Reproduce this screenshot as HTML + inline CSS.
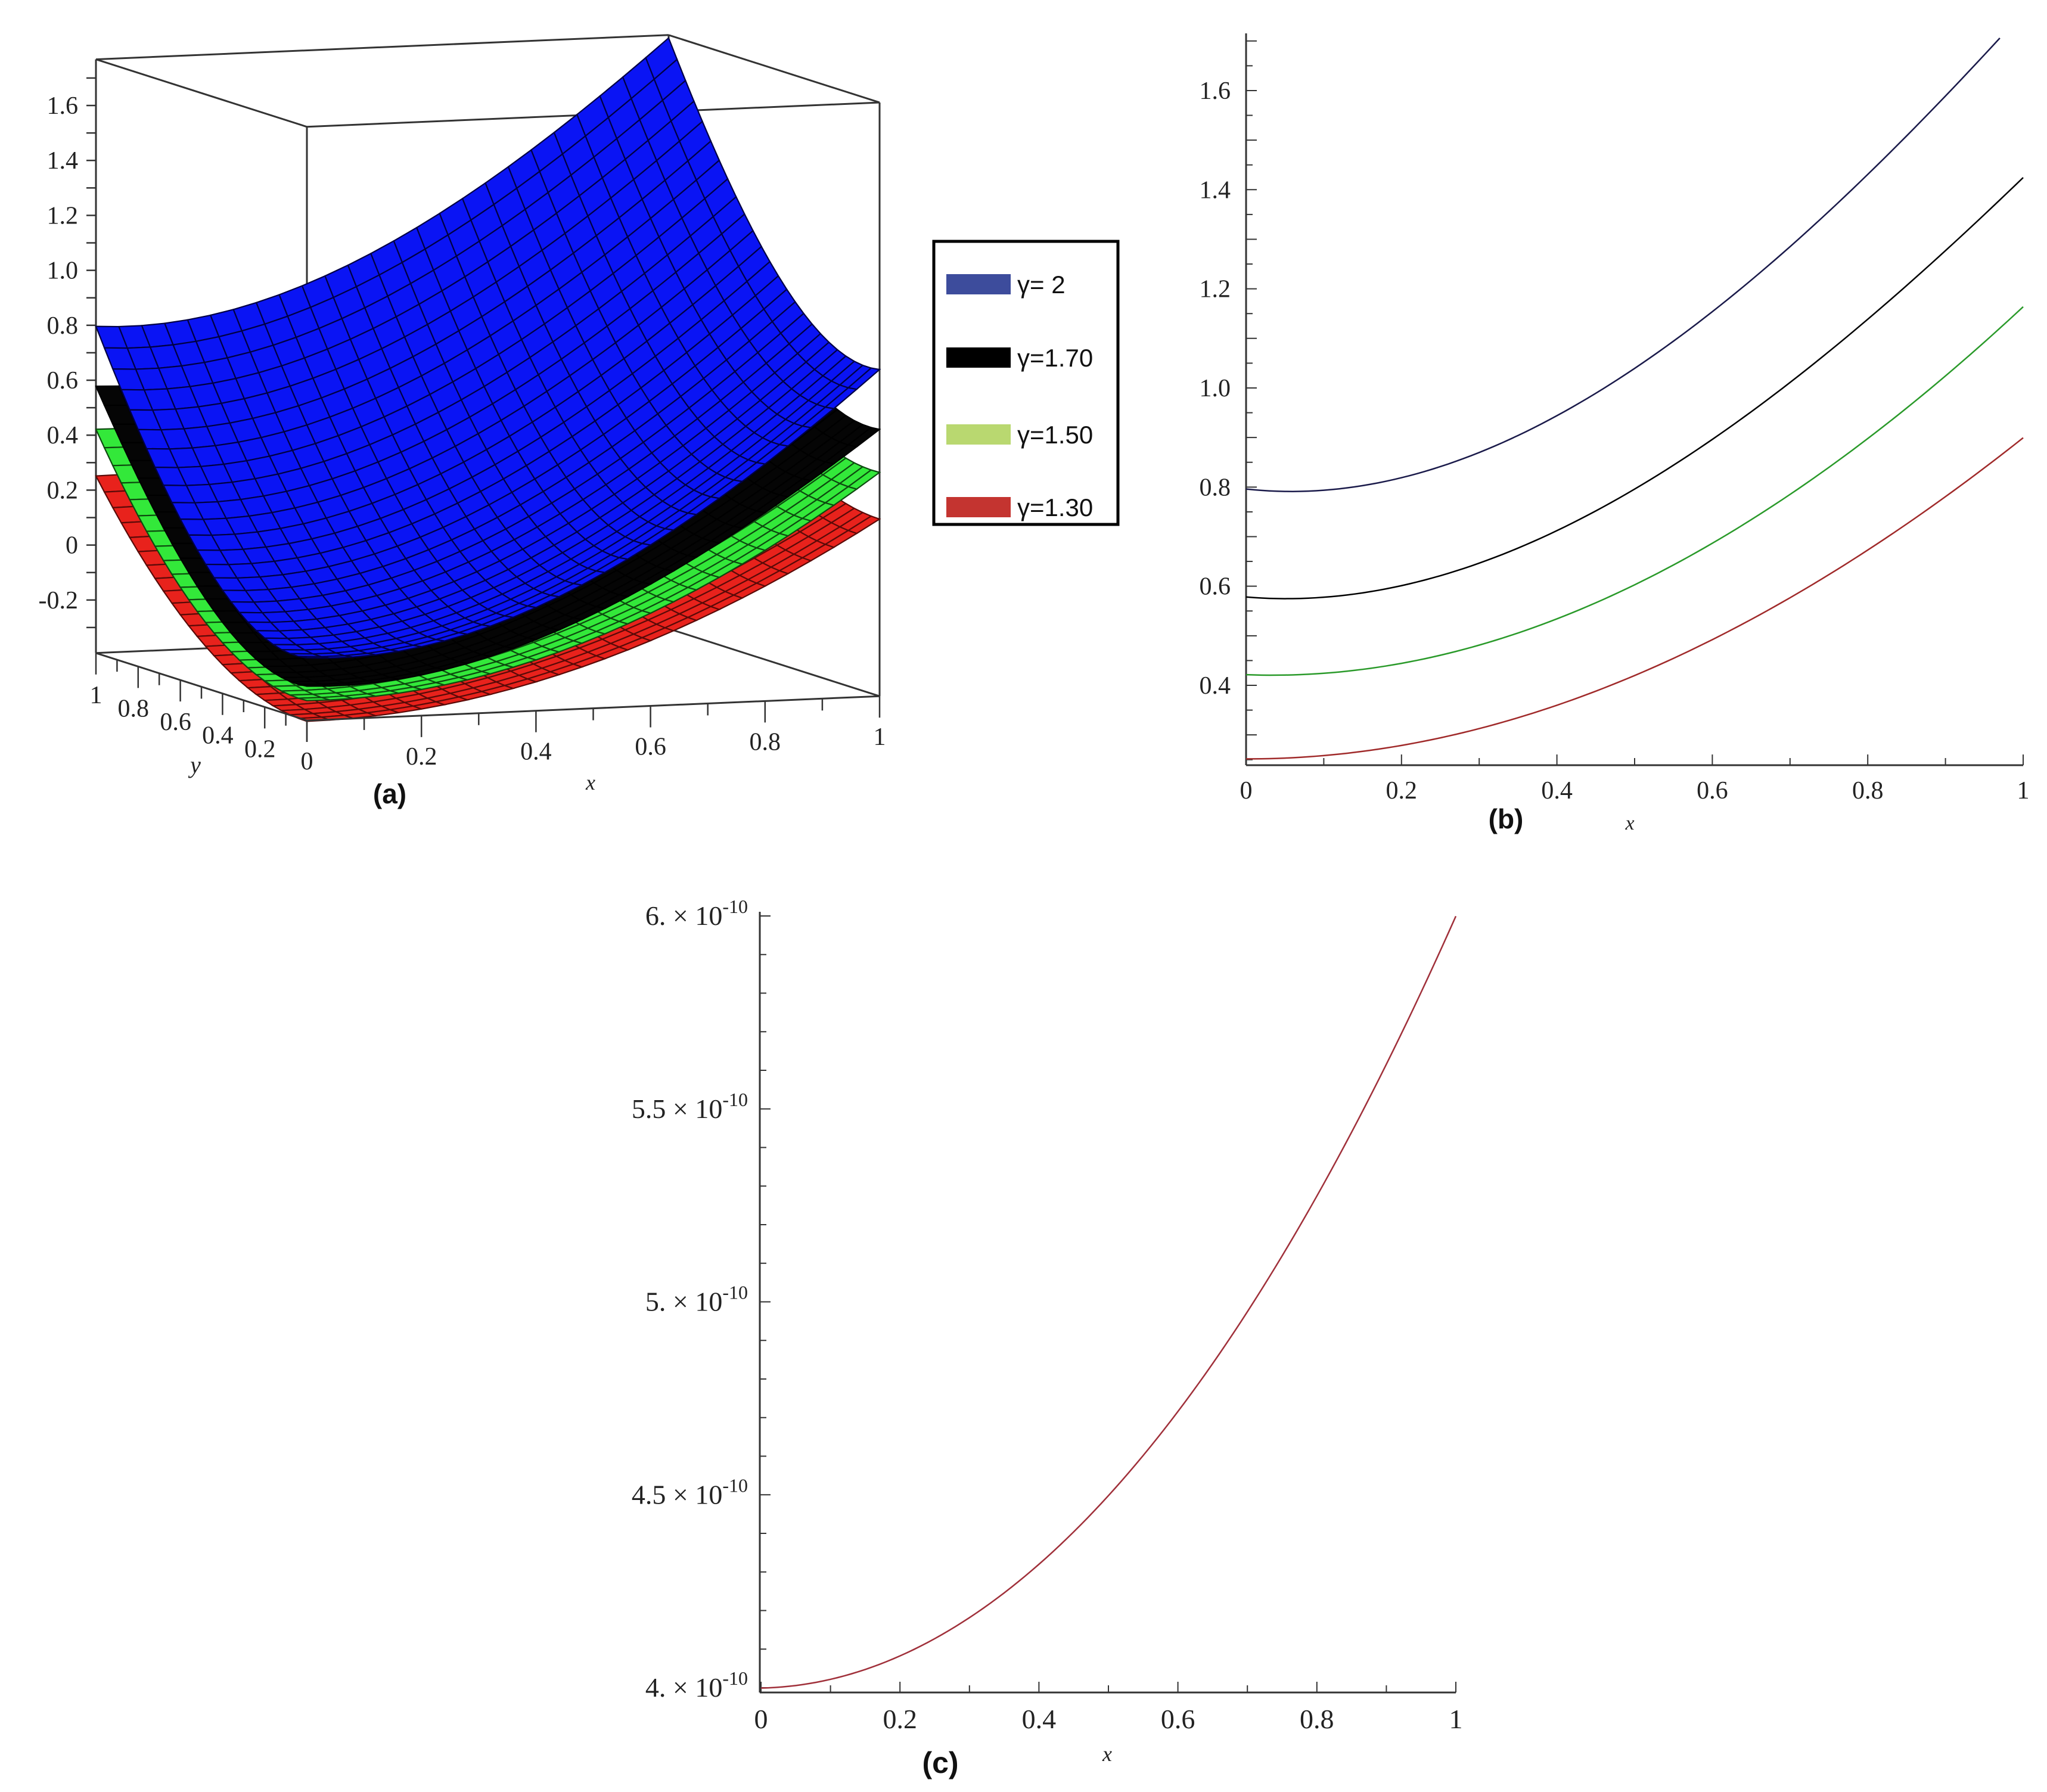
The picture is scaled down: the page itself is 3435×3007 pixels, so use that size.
<!DOCTYPE html>
<html><head><meta charset="utf-8"><style>
html,body{margin:0;padding:0;background:#fff}
svg{display:block}
.tk{font-family:"Liberation Serif",serif;fill:#222}
.lab{font-family:"Liberation Sans",sans-serif;font-weight:bold;fill:#111}
.leg{font-family:"Liberation Sans",sans-serif;font-weight:normal;fill:#111}
</style></head><body>
<svg id="fig" width="3435" height="3007" viewBox="0 0 3435 3007" xmlns="http://www.w3.org/2000/svg">
<g id="pa"></g>
<g id="pb"></g>
<g id="pc"></g>
</svg>
<script>
// ---- data ----
const xs = [0,0.1,0.2,0.3,0.4,0.5,0.6,0.7,0.8,0.9,1.0];
const gammaLabels = ["γ= 2","γ=1.70","γ=1.50","γ=1.30"];
const g20 = [0.79,0.80,0.825,0.868,0.945,1.03,1.15,1.29,1.43,1.60,1.75];
const g17 = [0.572,0.58,0.612,0.65,0.71,0.787,0.885,1.01,1.15,1.29,1.413];
const g15 = [0.42,0.424,0.449,0.482,0.531,0.60,0.69,0.78,0.90,1.03,1.16];
const g13 = [0.253,0.258,0.275,0.313,0.362,0.422,0.493,0.574,0.672,0.781,0.90];
const cVals = [4.0,4.02,4.083,4.18,4.32,4.505,4.714,4.96,5.29,5.61,6.0]; // ×1e-10
const bTicksY = [0.4,0.6,0.8,1.0,1.2,1.4,1.6];
const xTicks = [0,0.2,0.4,0.6,0.8,1];
const aTicksZ = [-0.2,0,0.2,0.4,0.6,0.8,1.0,1.2,1.4,1.6];
const cTicksY = [4,4.5,5,5.5,6];

const NS="http://www.w3.org/2000/svg";
function mk(parent,tag,attrs,name){const e=document.createElementNS(NS,tag);for(const k in attrs)e.setAttribute(k,attrs[k]);


parent.appendChild(e);return e;}
function txt(parent,x,y,s,cls,size,anchor,name,extra){const t=mk(parent,'text',Object.assign({x:x,y:y,class:cls,'font-size':size,'text-anchor':anchor||'middle'},extra||{}),name);t.textContent=s;return t;}
// least-squares cubic fit of sampled values (smooth curve through data)
function fitCubic(arr){
  const M=[[0,0,0,0],[0,0,0,0],[0,0,0,0],[0,0,0,0]],b=[0,0,0,0];
  arr.forEach((v,i)=>{const t=xs[i];const p=[1,t,t*t,t*t*t];for(let r=0;r<4;r++){b[r]+=p[r]*v;for(let c=0;c<4;c++)M[r][c]+=p[r]*p[c];}});
  for(let i=0;i<4;i++){let mx=i;for(let r=i+1;r<4;r++)if(Math.abs(M[r][i])>Math.abs(M[mx][i]))mx=r;
    [M[i],M[mx]]=[M[mx],M[i]];[b[i],b[mx]]=[b[mx],b[i]];
    for(let r=0;r<4;r++){if(r===i)continue;const f=M[r][i]/M[i][i];for(let c=i;c<4;c++)M[r][c]-=f*M[i][c];b[r]-=f*b[i];}}
  const co=b.map((v,i)=>v/M[i][i]);
  return t=>co[0]+co[1]*t+co[2]*t*t+co[3]*t*t*t;
}
function fmt(v){return (Math.abs(v)<1e-9)?"0":v.toFixed(1);}

// ---- panel (a) ----
const pa=document.getElementById('pa');
const zb=-0.393, zt=1.768, zs=461;
function P(x,y,z){return [515+961*x-354*y, 1209-40.8*x-113.2*y-(z-zb)*zs];}
function line(g,a,b,name,w){mk(g,'line',{x1:a[0],y1:a[1],x2:b[0],y2:b[1],stroke:'#333','stroke-width':w||3},name);}
line(pa,P(0,1,zb),P(0,1,zt),'z-axis-line');
line(pa,P(0,1,zt),P(0,0,zt),'box-edge');
line(pa,P(0,0,zt),P(1,0,zt),'box-edge');
line(pa,P(0,1,zt),P(1,1,zt),'box-edge');
line(pa,P(1,1,zt),P(1,0,zt),'box-edge');
line(pa,P(1,0,zt),P(1,0,zb),'box-edge');
line(pa,P(0,0,zt),P(0,0,zb),'box-edge');
line(pa,P(1,1,zt),P(1,1,zb),'box-edge');
line(pa,P(0,1,zb),P(1,1,zb),'box-edge');
line(pa,P(1,1,zb),P(1,0,zb),'box-edge');
for(let v=-0.3;v<=1.75;v+=0.1){const p=P(0,1,v);line(pa,[p[0]-16,p[1]],p,'z-tick',2.5);}
aTicksZ.forEach(v=>{const p=P(0,1,v);txt(pa,p[0]-30,p[1]+14,fmt(v),'tk',42,'end','z-tick-label');});
const series=[{d:g13,fill:'#e8221c',st:'#5a0a08'},{d:g15,fill:'#33e83a',st:'#0d4a0f'},{d:g17,fill:'#050505',st:'#000'},{d:g20,fill:'#0a14f4',st:'#000044'}];
const N=25;
series.forEach((s,si)=>{
  const g=mk(pa,'g',{},'surface-'+gammaLabels[si].replace(/[^0-9]/g,''));
  const h=fitCubic(s.d);
  const g1=h(1);
  const f=(x,y)=>h(x)+h(y)-g1;
  const quads=[];
  for(let i=0;i<N;i++)for(let j=0;j<N;j++)quads.push([i,j]);
  quads.sort((a,b)=>(b[0]+b[1])-(a[0]+a[1]));
  quads.forEach(([i,j])=>{
    const pts=[[i,j],[i+1,j],[i+1,j+1],[i,j+1]].map(([a,b])=>P(a/N,b/N,f(a/N,b/N)));
    mk(g,'polygon',{points:pts.map(p=>p.join(',')).join(' '),fill:s.fill,stroke:s.st,'stroke-width':2.2},'surface-cell');
  });
});
line(pa,P(0,0,zb),P(1,0,zb),'x-axis-line');
line(pa,P(0,1,zb),P(0,0,zb),'y-axis-line');
for(let k=0;k<=10;k++){const p=P(k/10,0,zb);line(pa,p,[p[0],p[1]+(k%2?20:36)],'x-tick',2.5);}
xTicks.forEach(v=>{const p=P(v,0,zb);txt(pa,p[0],p[1]+82,v==1?'1':fmt(v),'tk',42,'middle','x-tick-label');});
for(let k=0;k<=10;k++){const p=P(0,k/10,zb);line(pa,p,[p[0],p[1]+(k%2?20:36)],'y-tick',2.5);}
[0.2,0.4,0.6,0.8,1].forEach(v=>{const p=P(0,v,zb);txt(pa,p[0]+(v==1?0:-8),p[1]+84,v==1?'1':v.toFixed(1),'tk',42,'middle','y-tick-label');});
txt(pa,991,1325,'x','tk',36,'middle','x-axis-title',{'font-style':'italic'});
txt(pa,328,1297,'y','tk',40,'middle','y-axis-title',{'font-style':'italic'});
txt(pa,654,1348,'(a)','lab',46,'middle','panel-a-label');
const lg=mk(pa,'g',{},'legend');
mk(lg,'rect',{x:1567,y:405,width:309,height:475,fill:'#fff',stroke:'#000','stroke-width':5},'legend-box');
const legCol=['#3d4c9c','#000','#b9d870','#c43430'];
const legY=[477,600,729,851];
gammaLabels.forEach((l,i)=>{
  const e=mk(lg,'g',{},'legend-entry');
  mk(e,'rect',{x:1588,y:legY[i]-17,width:108,height:34,fill:legCol[i]},'legend-swatch');
  txt(e,1707,legY[i]+15,l,'leg',42,'start','legend-label');
});

// ---- panel (b) ----
const pb=document.getElementById('pb');
const bx=v=>2091+v*(3395-2091);
const by=v=>1150-(v-0.4)*831.7;
line(pb,[2091,56],[2091,1284],'y-axis-line',3);
line(pb,[2091,1284],[3395,1284],'x-axis-line',3);
for(let v=0.25;v<=1.71;v+=0.05){const y=by(v);line(pb,[2091,y],[2091+(Math.abs(v*10-Math.round(v*10))<0.01?18:11),y],'y-tick',2);}
bTicksY.forEach(v=>txt(pb,2065,by(v)+14,v.toFixed(1),'tk',42,'end','y-tick-label'));
for(let k=0;k<=10;k++){const x=bx(k/10);line(pb,[x,1284],[x,1284-(k%2?12:18)],'x-tick',2);}
xTicks.forEach(v=>txt(pb,bx(v),1340,v==0?'0':v==1?'1':v.toFixed(1),'tk',42,'middle','x-tick-label'));
txt(pb,2527,1390,'(b)','lab',46,'middle','panel-b-label');
txt(pb,2735,1392,'x','tk',34,'middle','x-axis-title',{'font-style':'italic'});
const bCols=['#1a1a4a','#000','#2a9a2a','#a02a2a'];
[g20,g17,g15,g13].forEach((d,i)=>{
  const h=fitCubic(d);
  const pts=[];for(let k=0;k<=100;k++){const t=k/100;const v=h(t);if(v<=1.72)pts.push(bx(t)+','+by(v));}
  mk(pb,'polyline',{points:pts.join(' '),fill:'none',stroke:bCols[i],'stroke-width':2.5},'line-'+gammaLabels[i].replace(/[^0-9]/g,''));
});

// ---- panel (c) ----
const pc=document.getElementById('pc');
const cx=v=>1277+v*(2443-1277);
const cy=v=>2832-(v-4)*(2832-1537)/2;
line(pc,[1275,1530],[1275,2840],'y-axis-line',3);
line(pc,[1275,2840],[2443,2840],'x-axis-line',3);
for(let v=4;v<=6.001;v+=0.1){const y=cy(v);line(pc,[1275,y],[1275+(Math.abs(v*2-Math.round(v*2))<0.01?18:11),y],'y-tick',2);}
cTicksY.forEach(v=>{const t=txt(pc,1255,cy(v)+15,'','tk',46,'end','y-tick-label');
  t.textContent=(Number.isInteger(v)?v+'.':v)+' × 10';
  const s=document.createElementNS(NS,'tspan');s.setAttribute('dy','-20');s.setAttribute('font-size','32');s.textContent='-10';
  
  
  t.appendChild(s);});
for(let k=0;k<=10;k++){const x=cx(k/10);line(pc,[x,2840],[x,2840-(k%2?12:18)],'x-tick',2);}
xTicks.forEach(v=>txt(pc,cx(v),2900,v==0?'0':v==1?'1':v.toFixed(1),'tk',46,'middle','x-tick-label'));
txt(pc,1578,2975,'(c)','lab',50,'middle','panel-c-label');
txt(pc,1858,2955,'x','tk',36,'middle','x-axis-title',{'font-style':'italic'});
{const h=fitCubic(cVals);const pts=[];for(let k=0;k<=100;k++){const t=k/100;pts.push(cx(t)+','+cy(h(t)));}
 mk(pc,'polyline',{points:pts.join(' '),fill:'none',stroke:'#a0303a','stroke-width':2.5},'error-line');}
</script>
</body></html>
